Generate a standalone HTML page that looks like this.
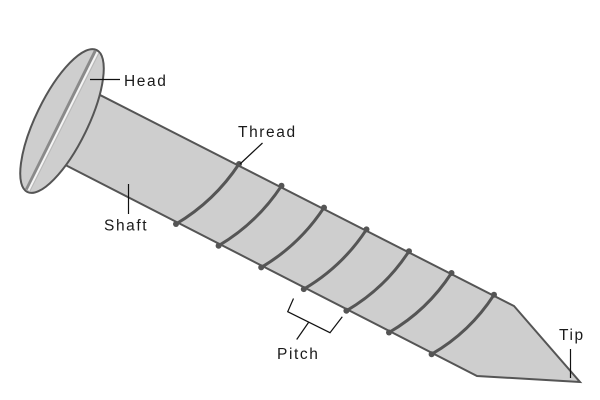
<!DOCTYPE html>
<html>
<head>
<meta charset="utf-8">
<style>
  html,body{margin:0;padding:0;background:#fff;}
  svg{display:block;}
  text{font-family:"Liberation Sans",Arial,sans-serif;font-size:15.5px;fill:#1a1a1a;letter-spacing:1.6px;}
</style>
</head>
<body>
<svg width="600" height="400" viewBox="0 0 600 400" xmlns="http://www.w3.org/2000/svg">
  <!-- shaft + tip -->
  <polygon points="80,84.8 514,306 580,382 477,376 40,152" fill="#cecece" stroke="#555" stroke-width="2" stroke-linejoin="miter"/>
  <!-- threads -->
  <g fill="none" stroke="#555" stroke-width="3" stroke-linecap="round">
    <path d="M176,224 Q214.4,201.2 239,164"/>
    <path d="M218.6,245.7 Q257,223 281.5,185.8"/>
    <path d="M261.2,267.4 Q299.6,244.8 324,207.6"/>
    <path d="M303.8,289.1 Q342.2,266.6 366.5,229.4"/>
    <path d="M346.4,310.8 Q384.8,288.4 409,251.2"/>
    <path d="M389,332.5 Q427.4,310.2 451.5,273"/>
    <path d="M431.6,354.2 Q470,332 494,294.8"/>
  </g>
  <g fill="#555">
    <circle cx="176" cy="224" r="3"/><circle cx="239" cy="164" r="3"/>
    <circle cx="218.6" cy="245.7" r="3"/><circle cx="281.5" cy="185.8" r="3"/>
    <circle cx="261.2" cy="267.4" r="3"/><circle cx="324" cy="207.6" r="3"/>
    <circle cx="303.8" cy="289.1" r="3"/><circle cx="366.5" cy="229.4" r="3"/>
    <circle cx="346.4" cy="310.8" r="3"/><circle cx="409" cy="251.2" r="3"/>
    <circle cx="389" cy="332.5" r="3"/><circle cx="451.5" cy="273" r="3"/>
    <circle cx="431.6" cy="354.2" r="3"/><circle cx="494" cy="294.8" r="3"/>
  </g>
  <!-- head -->
  <ellipse cx="62" cy="121" rx="26" ry="79" transform="rotate(26 62 121)" fill="#cecece" stroke="#555" stroke-width="2"/>
  <!-- slot -->
  <line x1="96" y1="51" x2="27" y2="190" stroke="#8a8a8a" stroke-width="4.5"/>
  <line x1="97.5" y1="52" x2="28.5" y2="190.5" stroke="#f4f4f4" stroke-width="2"/>
  <line x1="99" y1="53" x2="30" y2="191" stroke="#b8b8b8" stroke-width="1"/>
  <!-- leaders -->
  <g stroke="#111" stroke-width="1.2" fill="none">
    <line x1="90" y1="79.5" x2="120" y2="79.5"/>
    <line x1="128.5" y1="184" x2="128.5" y2="214"/>
    <line x1="240" y1="164" x2="262.5" y2="143"/>
    <polyline points="293.5,298.5 287.7,311.7 330,332.7 342.3,316.7"/>
    <line x1="308.5" y1="322.5" x2="296.7" y2="339.5"/>
    <line x1="570.5" y1="349" x2="570.5" y2="378"/>
  </g>
  <!-- labels -->
  <text x="124" y="86">Head</text>
  <text x="238" y="137">Thread</text>
  <text x="104" y="230.5">Shaft</text>
  <text x="277" y="359">Pitch</text>
  <text x="559" y="340">Tip</text>
</svg>
</body>
</html>
